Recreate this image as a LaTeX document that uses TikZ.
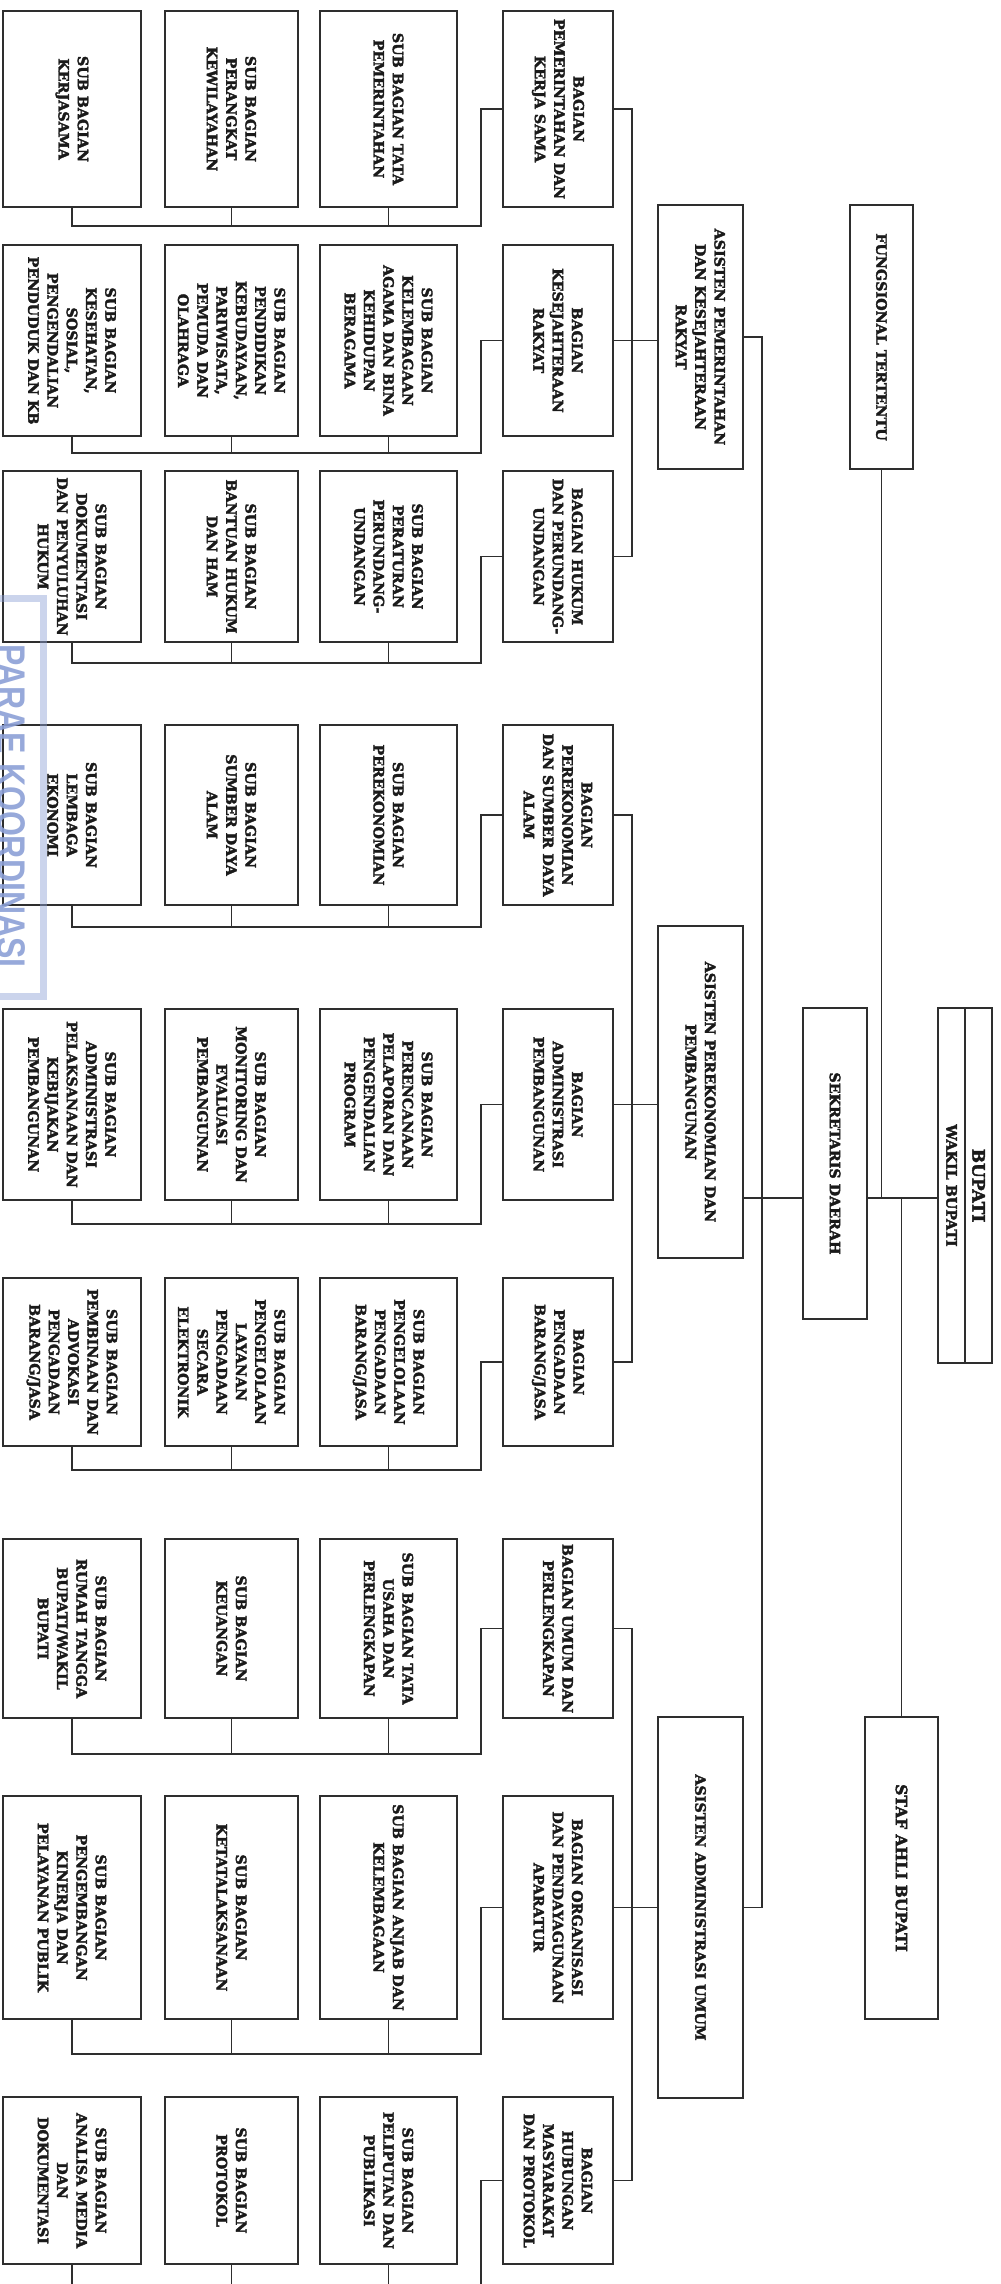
\documentclass[tikz,border=0pt]{standalone}
\usepackage{fontspec}
\usepackage{graphicx}
\setmainfont{DejaVu Serif}[BoldFeatures={FakeBold=2.5}]
\newfontfamily\wmfont{Liberation Sans}
\definecolor{linec}{HTML}{2E2E2E}
\definecolor{txtc}{HTML}{1A1A1A}
\definecolor{wmc}{RGB}{140,160,215}
\newcommand\orgbox[7][]{\node[obox,#1, minimum width={(#6-#5)*1pt}, minimum height={(#4-#3)*1pt}] (#2) at ({(#3+#4)/2},{-(#5+#6)/2}) {#7};}
\newcommand\rowlinks[2]{%
  \coordinate (bus#1) at (481,-#2);
  \draw[conn] (d#1.south) -| (bus#1) -- (a#1.east |- bus#1) -- (a#1.east);
  \draw[conn] (b#1.east) -- (b#1.east |- bus#1);
  \draw[conn] (c#1.east) -- (c#1.east |- bus#1);
}
\begin{document}
\begin{tikzpicture}[x=1pt,y=1pt,
  obox/.style={draw=linec, line width=1.8pt, rotate=-90, align=center, inner sep=1pt,
    font=\fontsize{14.3}{19.3}\selectfont\bfseries, text=txtc},
  conn/.style={draw=linec, line width=1.8pt}]
\path[use as bounding box] (0,0) rectangle (1001,-2284);
\clip (0,0) rectangle (1001,-2284);
\fill[white] (0,0) rectangle (1001,-2284);

% ---------------- row 1
\orgbox{a1}{3}{141}{11}{207}{SUB BAGIAN\\KERJASAMA}
\orgbox{b1}{165}{298}{11}{207}{SUB BAGIAN\\PERANGKAT\\KEWILAYAHAN}
\orgbox{c1}{320}{457}{11}{207}{SUB BAGIAN TATA\\PEMERINTAHAN}
\orgbox{d1}{503}{613}{11}{207}{BAGIAN\\PEMERINTAHAN DAN\\KERJA SAMA}
% ---------------- row 2
\orgbox{a2}{3}{141}{245}{436}{SUB BAGIAN\\KESEHATAN,\\SOSIAL,\\PENGENDALIAN\\PENDUDUK DAN KB}
\orgbox{b2}{165}{298}{245}{436}{SUB BAGIAN\\PENDIDIKAN\\KEBUDAYAAN,\\PARIWISATA,\\PEMUDA DAN\\OLAHRAGA}
\orgbox{c2}{320}{457}{245}{436}{SUB BAGIAN\\KELEMBAGAAN\\AGAMA DAN BINA\\KEHIDUPAN\\BERAGAMA}
\orgbox{d2}{503}{613}{245}{436}{BAGIAN\\KESEJAHTERAAN\\RAKYAT}
% ---------------- row 3
\orgbox{a3}{3}{141}{471}{642}{SUB BAGIAN\\DOKUMENTASI\\DAN PENYULUHAN\\HUKUM}
\orgbox{b3}{165}{298}{471}{642}{SUB BAGIAN\\BANTUAN HUKUM\\DAN HAM}
\orgbox{c3}{320}{457}{471}{642}{SUB BAGIAN\\PERATURAN\\PERUNDANG-\\UNDANGAN}
\orgbox{d3}{503}{613}{471}{642}{BAGIAN HUKUM\\DAN PERUNDANG-\\UNDANGAN}
% ---------------- row 4
\orgbox{a4}{3}{141}{725}{905}{SUB BAGIAN\\LEMBAGA\\EKONOMI}
\orgbox{b4}{165}{298}{725}{905}{SUB BAGIAN\\SUMBER DAYA\\ALAM}
\orgbox{c4}{320}{457}{725}{905}{SUB BAGIAN\\PEREKONOMIAN}
\orgbox{d4}{503}{613}{725}{905}{BAGIAN\\PEREKONOMIAN\\DAN SUMBER DAYA\\ALAM}
% ---------------- row 5
\orgbox{a5}{3}{141}{1009}{1200}{SUB BAGIAN\\ADMINISTRASI\\PELAKSANAAN DAN\\KEBIJAKAN\\PEMBANGUNAN}
\orgbox{b5}{165}{298}{1009}{1200}{SUB BAGIAN\\MONITORING DAN\\EVALUASI\\PEMBANGUNAN}
\orgbox{c5}{320}{457}{1009}{1200}{SUB BAGIAN\\PERENCANAAN\\PELAPORAN DAN\\PENGENDALIAN\\PROGRAM}
\orgbox{d5}{503}{613}{1009}{1200}{BAGIAN\\ADMINISTRASI\\PEMBANGUNAN}
% ---------------- row 6
\orgbox{a6}{3}{141}{1278}{1446}{SUB BAGIAN\\PEMBINAAN DAN\\ADVOKASI\\PENGADAAN\\BARANG/JASA}
\orgbox{b6}{165}{298}{1278}{1446}{SUB BAGIAN\\PENGELOLAAN\\LAYANAN\\PENGADAAN\\SECARA\\ELEKTRONIK}
\orgbox{c6}{320}{457}{1278}{1446}{SUB BAGIAN\\PENGELOLAAN\\PENGADAAN\\BARANG/JASA}
\orgbox{d6}{503}{613}{1278}{1446}{BAGIAN\\PENGADAAN\\BARANG/JASA}
% ---------------- row 7
\orgbox{a7}{3}{141}{1539}{1718}{SUB BAGIAN\\RUMAH TANGGA\\BUPATI/WAKIL\\BUPATI}
\orgbox{b7}{165}{298}{1539}{1718}{SUB BAGIAN\\KEUANGAN}
\orgbox{c7}{320}{457}{1539}{1718}{SUB BAGIAN TATA\\USAHA DAN\\PERLENGKAPAN}
\orgbox{d7}{503}{613}{1539}{1718}{BAGIAN UMUM DAN\\PERLENGKAPAN}
% ---------------- row 8
\orgbox{a8}{3}{141}{1796}{2019}{SUB BAGIAN\\PENGEMBANGAN\\KINERJA DAN\\PELAYANAN PUBLIK}
\orgbox{b8}{165}{298}{1796}{2019}{SUB BAGIAN\\KETATALAKSANAAN}
\orgbox{c8}{320}{457}{1796}{2019}{SUB BAGIAN ANJAB DAN\\KELEMBAGAAN}
\orgbox{d8}{503}{613}{1796}{2019}{BAGIAN ORGANISASI\\DAN PENDAYAGUNAAN\\APARATUR}
% ---------------- row 9
\orgbox{a9}{3}{141}{2097}{2264}{SUB BAGIAN\\ANALISA MEDIA\\DAN\\DOKUMENTASI}
\orgbox{b9}{165}{298}{2097}{2264}{SUB BAGIAN\\PROTOKOL}
\orgbox{c9}{320}{457}{2097}{2264}{SUB BAGIAN\\PELIPUTAN DAN\\PUBLIKASI}
\orgbox{d9}{503}{613}{2097}{2264}{BAGIAN\\HUBUNGAN\\MASYARAKAT\\DAN PROTOKOL}

% ---------------- upper levels
\orgbox{as1}{658}{743}{205}{469}{ASISTEN PEMERINTAHAN\\DAN KESEJAHTERAAN\\RAKYAT}
\orgbox{as2}{658}{743}{926}{1258}{ASISTEN PEREKONOMIAN DAN\\PEMBANGUNAN}
\orgbox{as3}{658}{743}{1717}{2098}{ASISTEN ADMINISTRASI UMUM}
\orgbox{fung}{850}{913}{205}{469}{FUNGSIONAL TERTENTU}
\orgbox{sek}{803}{867}{1008}{1319}{SEKRETARIS DAERAH}
\orgbox[font=\fontsize{15.5}{19}\selectfont\bfseries]{staf}{865}{938}{1717}{2019}{STAF AHLI BUPATI}
\orgbox{wak}{938}{965}{1008}{1363}{WAKIL BUPATI}
\orgbox[font=\fontsize{17}{19}\selectfont\bfseries]{bup}{965}{992}{1008}{1363}{BUPATI}

% ---------------- row connectors
\rowlinks{1}{226}
\rowlinks{2}{453}
\rowlinks{3}{663}
\rowlinks{4}{927}
\rowlinks{5}{1224}
\rowlinks{6}{1470}
\rowlinks{7}{1754}
\rowlinks{8}{2054}
\rowlinks{9}{2292}

% ---------------- bagian to asisten
\coordinate (vx) at (632,0);
\draw[conn] (d1.north) -- (d1.north -| vx) -- (d3.north -| vx) -- (d3.north);
\draw[conn] (d2.north) -- (d2.north -| vx);
\draw[conn] (as1.south |- d2.north) -- (d2.north -| vx);
\draw[conn] (d4.north) -- (d4.north -| vx) -- (d6.north -| vx) -- (d6.north);
\draw[conn] (d5.north) -- (d5.north -| vx);
\draw[conn] (as2.south |- d5.north) -- (d5.north -| vx);
\draw[conn] (d7.north) -- (d7.north -| vx) -- (d9.north -| vx) -- (d9.north);
\draw[conn] (d8.north) -- (d8.north -| vx);
\draw[conn] (as3.south |- d8.north) -- (d8.north -| vx);

% ---------------- asisten to sekda / bupati
\coordinate (sx) at (762,0);
\coordinate (sl) at (0,-1198);
\draw[conn] (as1.north) -- (as1.north -| sx) -- (as3.north -| sx) -- (as3.north);
\draw[conn] (as2.north |- sl) -- (sek.south |- sl);
\draw[conn] (sek.north |- sl) -- (wak.south |- sl);
\draw[conn] (fung.east) -- (fung.east |- sl);
\draw[conn] (staf.west) -- (staf.west |- sl);

% ---------------- stamp watermark
\draw[wmc, line width=7pt, opacity=0.45] (-10,-598) rectangle (43,-996);
\node[rotate=-90, text=wmc, opacity=0.9, font=\wmfont\bfseries\fontsize{40}{40}\selectfont, inner sep=0pt] (wm) at (11,-806) {\scalebox{0.8}[1]{PARAE KOORDINASI}};
\end{tikzpicture}
\end{document}
